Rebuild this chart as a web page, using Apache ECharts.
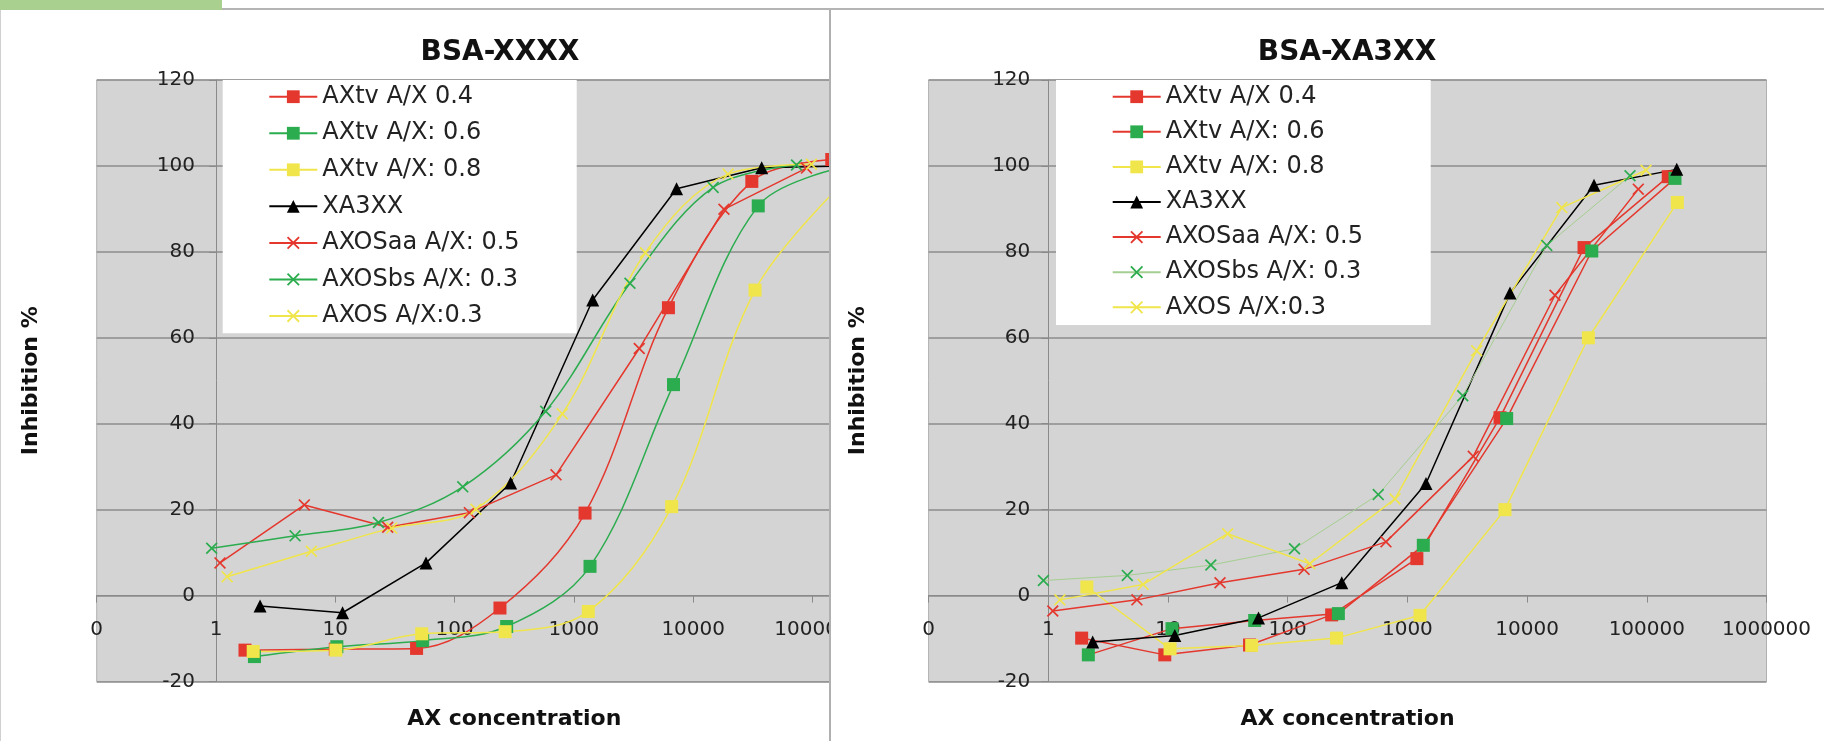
<!DOCTYPE html>
<html>
<head>
<meta charset="utf-8">
<script src="https://cdn.jsdelivr.net/npm/echarts@6/dist/echarts.min.js"></script>
<style>
  html, body { margin:0; padding:0; background:#fff; width:1824px; height:741px; overflow:hidden; }
  #leftWrap { position:absolute; left:0; top:0; width:830px; height:741px; overflow:hidden; }
  #c1 { position:absolute; left:0; top:0; width:1000px; height:741px; }
  #c2 { position:absolute; left:830px; top:0; width:994px; height:741px; }
  .chrome { position:absolute; z-index:5; }
</style>
</head>
<body>
<div id="leftWrap"><div id="c1"></div></div>
<div id="c2"></div>
<div class="chrome" style="left:0;top:0;width:222px;height:10px;background:#a9d08e;"></div>
<div class="chrome" style="left:222px;top:8px;width:1602px;height:2px;background:#b4b4b4;"></div>
<div class="chrome" style="left:829px;top:10px;width:2px;height:731px;background:#b0b0b0;"></div>
<div class="chrome" style="left:0;top:10px;width:1px;height:731px;background:#d0d0d0;"></div>
<script>
// ---------- DATA ----------
const seriesNames = ['AXtv A/X 0.4', 'AXtv A/X: 0.6', 'AXtv A/X: 0.8', 'XA3XX', 'AXOSaa A/X: 0.5', 'AXOSbs A/X: 0.3', 'AXOS A/X:0.3'];
const chartTitles = ['BSA-XXXX', 'BSA-XA3XX'];
const xAxisName = 'AX concentration';
const yAxisName = 'Inhibition %';

// Left chart: BSA-XXXX
const L_AXtv04_x = [1.75, 10, 48, 240, 1240, 6200, 31000, 145000];
const L_AXtv04_y = [-12.7, -12.5, -12.3, -2.9, 19.2, 67.0, 96.4, 101.5];
const L_AXtv06_x = [2.1, 10.3, 54, 273, 1365, 6840, 35100, 170000];
const L_AXtv06_y = [-14.2, -11.9, -10.5, -7.2, 6.8, 49.1, 90.7, 99.5];
const L_AXtv08_x = [2.05, 10.1, 53, 265, 1320, 6600, 33000, 165000];
const L_AXtv08_y = [-13.0, -12.7, -8.9, -8.4, -3.7, 20.7, 71.1, 95.0];
const L_XA3XX_x = [2.34, 11.5, 57.6, 295, 1437, 7250, 37500, 180000];
const L_XA3XX_y = [-2.4, -4.0, 7.6, 26.2, 68.8, 94.7, 99.6, 100.0];
const L_AXOSaa_x = [1.08, 5.5, 27.5, 133, 708, 3530, 18100, 89000];
const L_AXOSaa_y = [7.6, 21.1, 15.9, 19.3, 28.1, 57.5, 89.9, 99.5];
const L_AXOSbs_x = [0.92, 4.6, 23, 117, 580, 2950, 14700, 73500];
const L_AXOSbs_y = [11.0, 13.9, 17.0, 25.3, 42.9, 72.7, 95.0, 100.2];
const L_AXOS_x = [1.24, 6.3, 29.7, 151, 800, 3970, 19600, 98000];
const L_AXOS_y = [4.4, 10.3, 15.7, 20.1, 42.3, 79.8, 98.1, 100.4];

// Right chart: BSA-XA3XX
const R_AXtv04_x = [1.9, 9.4, 48, 233, 1200, 5940, 29900, 151000];
const R_AXtv04_y = [-9.9, -13.8, -11.5, -4.5, 8.6, 41.4, 81.0, 97.5];
const R_AXtv06_x = [2.16, 10.8, 53, 265, 1358, 6750, 34700, 172000];
const R_AXtv06_y = [-13.8, -7.7, -5.8, -4.2, 11.7, 41.2, 80.2, 97.1];
const R_AXtv08_x = [2.1, 10.4, 50, 256, 1274, 6530, 32500, 180000];
const R_AXtv08_y = [2.0, -12.4, -11.6, -9.9, -4.6, 20.0, 60.0, 91.5];
const R_XA3XX_x = [2.35, 11.4, 57, 283, 1430, 7200, 36200, 178000];
const R_XA3XX_y = [-10.8, -9.3, -5.2, 3.0, 26.1, 70.4, 95.5, 99.2];
const R_AXOSaa_x = [1.09, 5.5, 27.2, 137, 662, 3550, 17100, 84900];
const R_AXOSaa_y = [-3.6, -1.0, 3.0, 6.1, 12.5, 32.4, 69.9, 94.6];
const R_AXOSbs_x = [0.91, 4.57, 22.8, 114, 571, 2900, 14600, 72400];
const R_AXOSbs_y = [3.5, 4.7, 7.1, 10.9, 23.5, 46.5, 81.5, 97.7];
const R_AXOS_x = [1.25, 6.2, 31.5, 153, 788, 3790, 19500, 98500];
const R_AXOS_y = [-1.0, 2.6, 14.4, 7.4, 22.5, 57.0, 90.3, 99.0];

// ---------- STYLE ----------
const FONT = 'DejaVu Sans';
const RED = '#e4372d', GREEN = '#2bac4e', YELLOW = '#f0e54a', BLACK = '#000000', PALEGREEN = '#a5cf90';
const XSYM = 'path://M0,1L1,0L5,4L9,0L10,1L6,5L10,9L9,10L5,6L1,10L0,9L4,5Z';

function pairs(xs, ys) { return xs.map((x, i) => [x, ys[i]]); }
function ser(name, xs, ys, o) {
  return {
    name: name, type: 'line', data: pairs(xs, ys),
    symbol: o.symbol, symbolSize: o.size, smooth: o.smooth || false,
    lineStyle: { color: o.line, width: o.lw || 1.5 },
    itemStyle: { color: o.fill },
    emphasis: { disabled: true }, animation: false
  };
}

function buildOption(p) {
  return {
    animation: false,
    textStyle: { fontFamily: FONT },
    title: {
      text: p.title, left: p.titleX, top: 39, textAlign: 'center', padding: 0,
      textStyle: { fontFamily: FONT, fontSize: 28, fontWeight: 'bold', color: '#111' }
    },
    graphic: [{
      type: 'rect', z: 1, silent: true,
      shape: { x: p.box[0], y: p.box[1], width: p.box[2], height: p.box[3] },
      style: { fill: '#ffffff' }
    }],
    legend: {
      orient: 'vertical', left: p.legLeft, top: p.legTop, padding: 0,
      itemWidth: 48, itemHeight: 16, itemGap: p.legGap,
      data: seriesNames,
      textStyle: { fontFamily: FONT, fontSize: 24, lineHeight: 24, color: '#222' }
    },
    grid: {
      left: p.gridLeft, top: 80, width: p.gridWidth, height: 601.5,
      containLabel: false, outerBoundsMode: 'none',
      show: true, backgroundColor: '#d4d4d4', borderColor: '#b0b0b0', borderWidth: 1
    },
    xAxis: {
      type: 'log', logBase: 10, min: 0.1, max: 1000000, splitNumber: 7,
      name: xAxisName, nameLocation: 'middle', nameGap: 27,
      nameTextStyle: { fontFamily: FONT, fontSize: 22, fontWeight: 'bold', color: '#111' },
      axisLine: { onZero: true, lineStyle: { color: '#8a8a8a', width: 1 } },
      axisTick: { show: true, length: 7, lineStyle: { color: '#8a8a8a' } },
      axisLabel: {
        fontFamily: FONT, fontSize: 20, color: '#222', margin: -62,
        formatter: v => (v < 0.5 ? '0' : String(Math.round(v)))
      },
      splitLine: { show: false }
    },
    yAxis: {
      type: 'value', min: -20, max: 120, interval: 20, offset: -p.decade,
      name: yAxisName, nameLocation: 'middle', nameGap: p.yNameGap, nameRotate: 90,
      nameTextStyle: { fontFamily: FONT, fontSize: 22, fontWeight: 'bold', color: '#111' },
      axisLine: { show: true, onZero: false, lineStyle: { color: '#8a8a8a', width: 1 } },
      axisTick: { show: true, length: 7, lineStyle: { color: '#8a8a8a' } },
      axisLabel: { fontFamily: FONT, fontSize: 20, color: '#222', margin: p.yLabelMargin },
      splitLine: { show: true, lineStyle: { color: '#8c8c8c', width: 1.5 } }
    },
    series: p.series
  };
}

const leftSeries = [
  ser(seriesNames[0], L_AXtv04_x, L_AXtv04_y, { symbol: 'rect', size: 13, line: RED, fill: RED, smooth: 0.35 }),
  ser(seriesNames[1], L_AXtv06_x, L_AXtv06_y, { symbol: 'rect', size: 13, line: GREEN, fill: GREEN, smooth: 0.35 }),
  ser(seriesNames[2], L_AXtv08_x, L_AXtv08_y, { symbol: 'rect', size: 13, line: YELLOW, fill: YELLOW, smooth: 0.35 }),
  ser(seriesNames[3], L_XA3XX_x, L_XA3XX_y, { symbol: 'triangle', size: 13, line: BLACK, fill: BLACK }),
  ser(seriesNames[4], L_AXOSaa_x, L_AXOSaa_y, { symbol: XSYM, size: 12, line: RED, fill: RED }),
  ser(seriesNames[5], L_AXOSbs_x, L_AXOSbs_y, { symbol: XSYM, size: 12, line: GREEN, fill: GREEN, smooth: 0.35 }),
  ser(seriesNames[6], L_AXOS_x, L_AXOS_y, { symbol: XSYM, size: 12, line: YELLOW, fill: YELLOW, smooth: 0.35 })
];
const rightSeries = [
  ser(seriesNames[0], R_AXtv04_x, R_AXtv04_y, { symbol: 'rect', size: 13, line: RED, fill: RED }),
  ser(seriesNames[1], R_AXtv06_x, R_AXtv06_y, { symbol: 'rect', size: 13, line: RED, fill: GREEN }),
  ser(seriesNames[2], R_AXtv08_x, R_AXtv08_y, { symbol: 'rect', size: 13, line: YELLOW, fill: YELLOW }),
  ser(seriesNames[3], R_XA3XX_x, R_XA3XX_y, { symbol: 'triangle', size: 13, line: BLACK, fill: BLACK }),
  ser(seriesNames[4], R_AXOSaa_x, R_AXOSaa_y, { symbol: XSYM, size: 12, line: RED, fill: RED }),
  ser(seriesNames[5], R_AXOSbs_x, R_AXOSbs_y, { symbol: XSYM, size: 12, line: PALEGREEN, fill: GREEN, lw: 1 }),
  ser(seriesNames[6], R_AXOS_x, R_AXOS_y, { symbol: XSYM, size: 12, line: YELLOW, fill: YELLOW })
];

const c1 = echarts.init(document.getElementById('c1'), null, { renderer: 'canvas' });
c1.setOption(buildOption({
  title: chartTitles[0], titleX: 500,
  box: [222.7, 80, 354, 253.3],
  legLeft: 268.3, legTop: 84.7, legGap: 12.55,
  gridLeft: 96.7, gridWidth: 7 * 119.3, decade: 119.3, yNameGap: 174, yLabelMargin: 21,
  series: leftSeries
}));

const c2 = echarts.init(document.getElementById('c2'), null, { renderer: 'canvas' });
c2.setOption(buildOption({
  title: chartTitles[1], titleX: 517,
  box: [226, 80, 374.7, 245],
  legLeft: 281.7, legTop: 84.7, legGap: 11.1,
  gridLeft: 98.6, gridWidth: 7 * 119.7, decade: 119.7, yNameGap: 179, yLabelMargin: 18,
  series: rightSeries
}));
</script>
</body>
</html>
